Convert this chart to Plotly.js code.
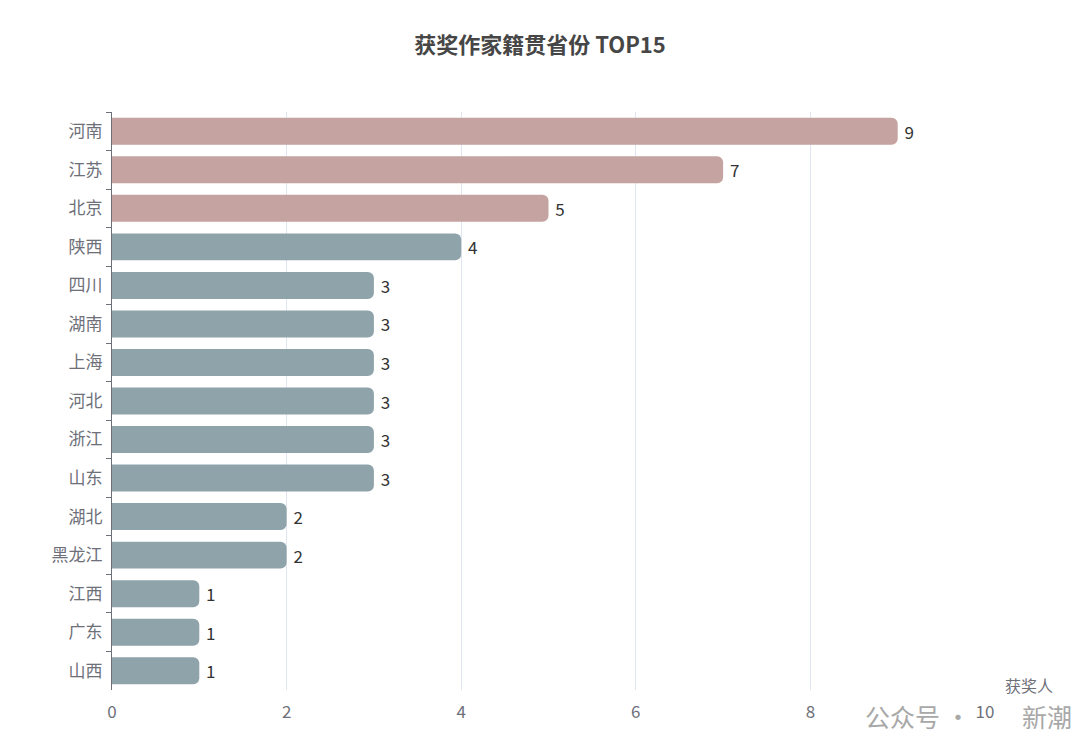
<!DOCTYPE html>
<html>
<head>
<meta charset="utf-8">
<script src="https://cdn.plot.ly/plotly-3.0.1.min.js"></script>
<style>html,body{margin:0;padding:0;background:#fff;}#chart{width:1080px;height:751px;}</style>
</head>
<body>
<div id="chart"></div>
<script>
const provinces = ["河南","江苏","北京","陕西","四川","湖南","上海","河北","浙江","山东","湖北","黑龙江","江西","广东","山西"];
const winners = [9,7,5,4,3,3,3,3,3,3,2,2,1,1,1];
const xTicks = [0,2,4,6,8,10];
const topColor = "#c4a3a0";
const restColor = "#8fa3ab";
const colors = winners.map((v,i)=> i<3 ? topColor : restColor);
const FONT = '"Noto Sans CJK SC","Microsoft YaHei",sans-serif';

const bars = {
  type: "bar",
  orientation: "h",
  y: provinces,
  x: winners,
  marker: {color: colors, cornerradius: 6},
  text: winners.map(v => "\u00a0" + v),
  textposition: "outside",
  cliponaxis: false,
  textfont: {color: "#333", size: 17, family: FONT},
  hoverinfo: "none"
};

const layout = {
  width: 1080, height: 751,
  margin: {l: 112, r: 95, t: 112, b: 61},
  paper_bgcolor: "#fff", plot_bgcolor: "#fff",
  font: {family: FONT},
  title: {text: "<b>获奖作家籍贯省份 TOP15</b>", x: 0.5, xanchor: "center", y: 0.94, yanchor: "middle",
          font: {size: 22, color: "#464646", family: FONT}},
  bargap: 0.3,
  showlegend: false,
  uniformtext: {mode: false},
  xaxis: {
    range: [0, 10], tickvals: xTicks, ticktext: xTicks.map(String),
    showgrid: true, gridcolor: "#e0e6f1", gridwidth: 1,
    zeroline: false, showline: false, ticks: "",
    tickfont: {size: 17, color: "#6e7079", family: FONT}, ticklabelstandoff: 10
  },
  yaxis: {
    type: "category", range: [14.5, -0.5], autorange: false,
    showgrid: false, zeroline: false,
    showline: true, linecolor: "#6e7079", linewidth: 1,
    ticks: "outside", tickson: "boundaries", ticklen: 5, tickcolor: "#6e7079",
    tickfont: {size: 17, color: "#6e7079", family: FONT}, ticklabelstandoff: 5
  },
  annotations: [
    {text: "获奖人", xref: "paper", yref: "paper", x: 1.0, y: 0, xanchor: "left", yanchor: "bottom", xshift: 18, yshift: -9,
     showarrow: false, font: {size: 16, color: "#6e7079", family: FONT}},
    {text: "公众号 ·", xref: "paper", yref: "paper", x: 0.86, y: 0, xanchor: "left", yanchor: "top", yshift: -6,
     showarrow: false, font: {size: 25, color: "#a8a8a8", family: FONT}},
    {text: "新潮", xref: "paper", yref: "paper", x: 1.04, y: 0, xanchor: "left", yanchor: "top", yshift: -6,
     showarrow: false, font: {size: 25, color: "#a8a8a8", family: FONT}}
  ]
};

Plotly.newPlot("chart", [bars], layout, {displayModeBar: false, staticPlot: true});
</script>
</body>
</html>
